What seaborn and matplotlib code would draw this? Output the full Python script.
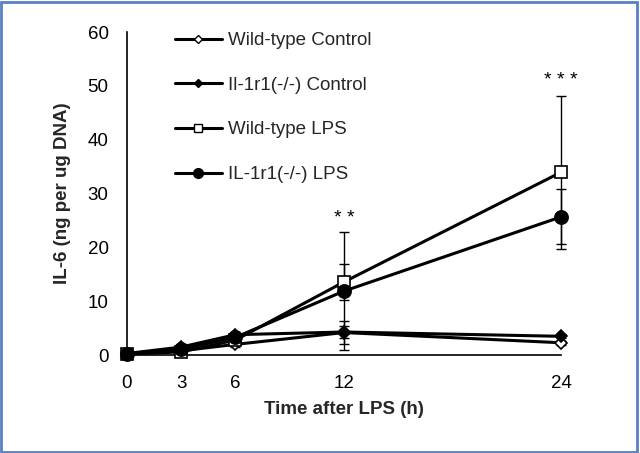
import matplotlib
matplotlib.use("Agg")
import matplotlib.pyplot as plt
import seaborn as sns
import pandas as pd
from matplotlib.lines import Line2D
from matplotlib.patches import Rectangle

# ---- data ----
hours = [0, 3, 6, 12, 24]
series_names = ["Wild-type Control", "Il-1r1(-/-) Control", "Wild-type LPS", "IL-1r1(-/-) LPS"]
wt_ctrl = [0.2, 0.8, 2.0, 4.2, 2.3]
wt_ctrl_err = [0.2, 0.4, 0.5, 2.1, 0.4]
il_ctrl = [0.3, 1.5, 3.8, 4.3, 3.5]
il_ctrl_err = [0.2, 0.4, 0.5, 1.1, 0.4]
wt_lps = [0.2, 0.6, 2.8, 13.6, 34.0]
wt_lps_err = [0.2, 0.4, 0.6, 3.3, 14.2]
il_lps = [0.3, 1.1, 3.3, 11.9, 25.7]
il_lps_err = [0.2, 0.4, 0.6, 10.9, 5.1]
sig_x = [12, 24]
sig_y = [25.3, 51.1]
sig_text = ["* *", "* * *"]
x_ticks = [0, 3, 6, 12, 24]
minor_x_ticks = [15, 18, 21]
y_ticks = [0, 10, 20, 30, 40, 50, 60]

sns.set_theme(style="white")
plt.rcParams['font.family'] = ['Liberation Sans', 'DejaVu Sans']

fig = plt.figure(figsize=(6.4, 4.53), dpi=100)
ax = fig.add_axes([0.198, 0.216, 0.679, 0.713])

styles = [
    (wt_ctrl, wt_ctrl_err, 'D', 'white', 6.0),
    (il_ctrl, il_ctrl_err, 'D', 'black', 6.0),
    (wt_lps, wt_lps_err, 's', 'white', 8.0),
    (il_lps, il_lps_err, 'o', 'black', 9.5),
]

for (vals, errs, mk, mfc, ms), name in zip(styles, series_names):
    df = pd.DataFrame({"h": hours, "v": vals})
    ax.errorbar(hours, vals, yerr=errs, fmt='none', ecolor='black',
                elinewidth=1.0, capsize=3.8, capthick=1.0, clip_on=False, zorder=2)
    sns.lineplot(data=df, x="h", y="v", ax=ax, color='black', linewidth=2.2,
                 marker=mk, markersize=ms, markerfacecolor=mfc,
                 markeredgecolor='black', markeredgewidth=1.2,
                 clip_on=False, zorder=3, label=name, legend=False)

for x, y, t in zip(sig_x, sig_y, sig_text):
    ax.text(x, y, t, ha='center', va='center', fontsize=14, color='black')

ax.set_xlim(0, 24)
ax.set_ylim(0, 60)
ax.set_xticks(x_ticks)
ax.set_xticks(minor_x_ticks, minor=True)
ax.set_yticks(y_ticks)
ax.tick_params(axis='both', which='both', direction='out', length=5, width=1,
               color='black', labelsize=13.5, labelcolor='black')
ax.tick_params(axis='x', which='major', pad=9)
ax.tick_params(axis='y', which='major', pad=8)
for s in ['top', 'right']:
    ax.spines[s].set_visible(False)
for s in ['left', 'bottom']:
    ax.spines[s].set_color('black')
    ax.spines[s].set_linewidth(1.2)

ax.set_xlabel("Time after LPS (h)", fontsize=13.5, fontweight='bold', labelpad=7)
ax.set_ylabel("IL-6 (ng per ug DNA)", fontsize=13.5, fontweight='bold', labelpad=12)

handles = [
    Line2D([], [], color='black', lw=2.2, marker='D', markersize=4.5, markerfacecolor='white', markeredgecolor='black'),
    Line2D([], [], color='black', lw=2.2, marker='D', markersize=4.5, markerfacecolor='black', markeredgecolor='black'),
    Line2D([], [], color='black', lw=2.2, marker='s', markersize=6, markerfacecolor='white', markeredgecolor='black'),
    Line2D([], [], color='black', lw=2.2, marker='o', markersize=7, markerfacecolor='black', markeredgecolor='black'),
]
leg = fig.legend(handles, series_names, loc='upper left',
                 bbox_to_anchor=(175 / 640, 1 - 32 / 453), frameon=False,
                 fontsize=13.5, handlelength=2.5, handletextpad=0.32,
                 labelspacing=1.47, borderpad=0, borderaxespad=0)

fig.patches.append(Rectangle((0.002, 0.003), 0.994, 0.993, transform=fig.transFigure,
                             fill=False, edgecolor='#5b7fc4', linewidth=2))

fig.savefig("out.png", dpi=100)
